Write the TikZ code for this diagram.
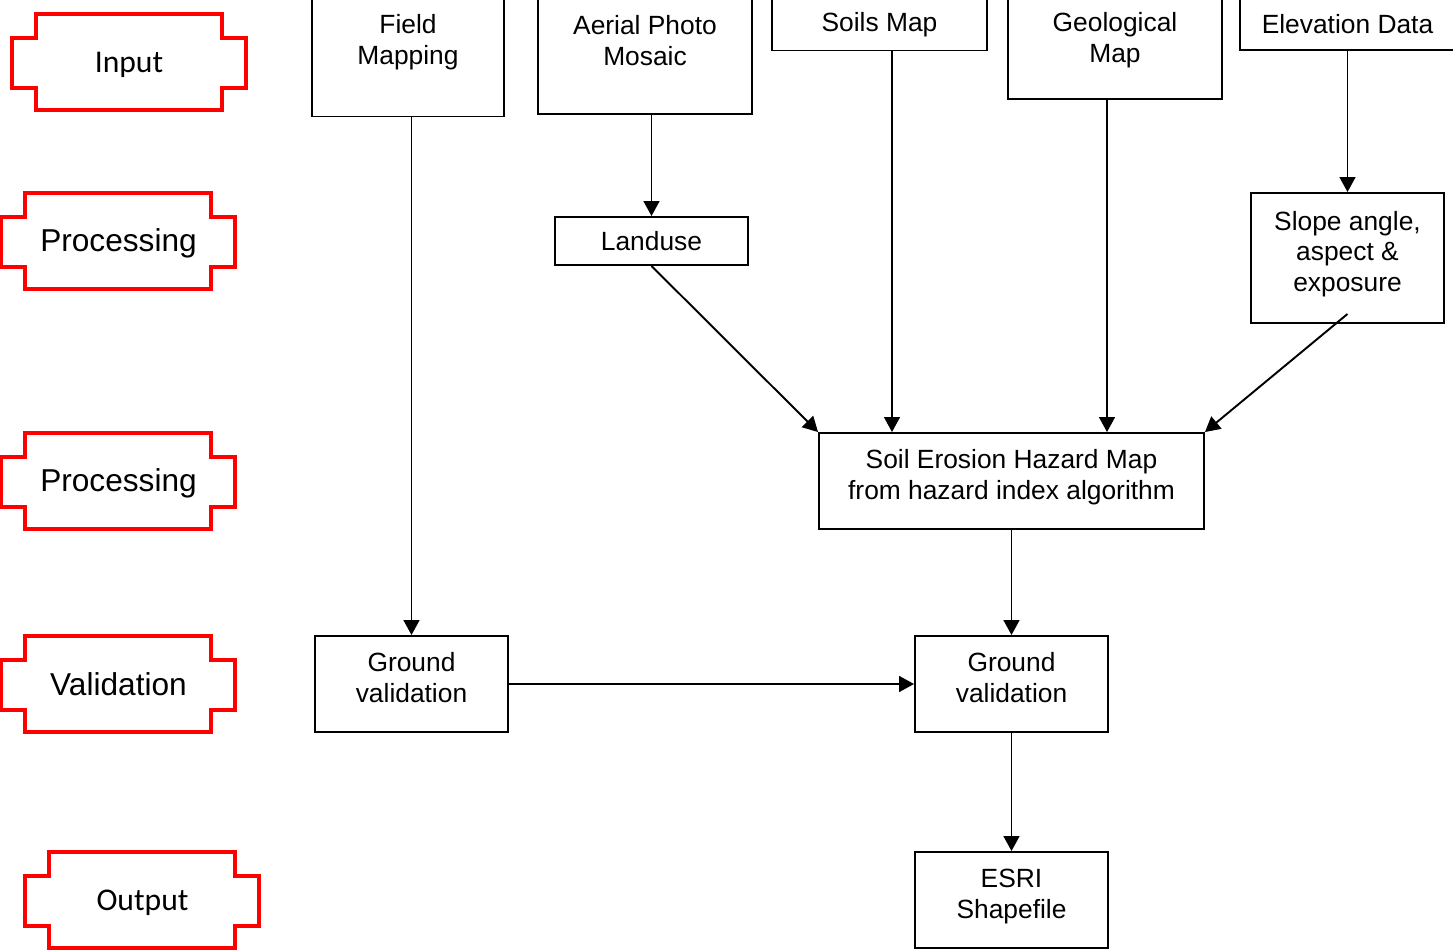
\documentclass[tikz,border=0pt]{standalone}
\usepackage{fontspec}
\setmainfont{Liberation Sans}
\newfontfamily\calibrifont{Carlito}
\usepackage{tikz}
\usetikzlibrary{arrows.meta,shapes,positioning}
\tikzstyle{stage} = [rectangle, minimum width=4.68cm, minimum height=1.92cm, inner sep=0pt, font=\fontsize{18}{21}\selectfont, text height=16.3pt, text depth=3.8pt, text centered]
\tikzstyle{stageline} = [draw=red, line width=2.3pt, miter limit=10]
\tikzstyle{process} = [rectangle, draw=black, line width=1.1pt, inner sep=0pt, align=center, font=\fontsize{15}{17.6}\selectfont]
\tikzstyle{lower} = [text depth=7.5pt]
\tikzstyle{arrow} = [line width=1.1pt, -{Triangle[width=9pt,length=8.5pt]}]
% red stage label: name, position, text
\newcommand{\stagebox}[3]{%
  \node[stage] (#1) at (#2) {#3};
  \draw[stageline] (#1.north west) ++(0.48,0) -- ++(3.72,0) -- ++(0,-0.48) -- ++(0.48,0) -- ++(0,-1) -- ++(-0.48,0) -- ++(0,-0.44) -- ++(-3.72,0) -- ++(0,0.44) -- ++(-0.48,0) -- ++(0,1) -- ++(0.48,0) -- cycle;
}

\begin{document}
\begin{tikzpicture}
\useasboundingbox (0,0) rectangle (29.06,-19);

% stages on the left
\stagebox{input}{2.58,-1.24}{\calibrifont Input}
\stagebox{proca}{2.37,-4.82}{Processing}
\stagebox{procb}{2.37,-9.62}{Processing}
\stagebox{valid}{2.37,-13.69}{Validation}
\stagebox{output}{2.85,-18.0}{\calibrifont Output}

% input data
\node[process, minimum width=3.84cm, minimum height=2.96cm] (field) at (8.16,-0.85) {Field\\Mapping};
\node[process, minimum width=4.28cm, minimum height=2.92cm] (aerial) at (12.9,-0.82) {Aerial Photo\\Mosaic};
\node[process, minimum width=4.3cm, minimum height=1.02cm] (soils) at (17.59,-0.5) {Soils Map};
\node[process, minimum width=4.28cm, minimum height=2.36cm] (geo) at (22.3,-0.8) {Geological\\Map};
\node[process, minimum width=4.3cm, minimum height=1.02cm] (elev) at (26.95,-0.49) {Elevation Data};

% processing
\node[process, minimum width=3.86cm, minimum height=0.96cm] (landuse) at (13.03,-4.82) {Landuse};
\node[process, lower, minimum width=3.86cm, minimum height=2.6cm] (slope) at (26.95,-5.16) {Slope angle,\\aspect \&\\exposure};
\node[process, lower, minimum width=7.7cm, minimum height=1.92cm] (hazard) at (20.23,-9.62) {Soil Erosion Hazard Map\\from hazard index algorithm};

% validation and output
\node[process, lower, minimum width=3.86cm, minimum height=1.92cm] (gvleft) at (8.23,-13.68) {Ground\\validation};
\node[process, lower, minimum width=3.86cm, minimum height=1.92cm] (gvright) at (20.23,-13.68) {Ground\\validation};
\node[process, lower, minimum width=3.86cm, minimum height=1.92cm] (esri) at (20.23,-18.0) {ESRI\\Shapefile};

\draw[arrow] (gvleft.north |- field.south) -- (gvleft.north);
\draw[arrow] (landuse.north |- aerial.south) -- (landuse.north);
\draw[arrow] (landuse.south) -- (hazard.north west);
\draw[arrow] ([xshift=0.25cm]soils.south) -- ([xshift=0.25cm]soils.south |- hazard.north);
\draw[arrow] ([xshift=-0.16cm]geo.south) -- ([xshift=-0.16cm]geo.south |- hazard.north);
\draw[arrow] (elev.south) -- (slope.north);
\draw[arrow] ([yshift=0.2cm]slope.south) -- (hazard.north east);
\draw[arrow] (hazard.south) -- (gvright.north);
\draw[arrow] (gvleft.east) -- (gvright.west);
\draw[arrow] (gvright.south) -- (esri.north);
\end{tikzpicture}
\end{document}
